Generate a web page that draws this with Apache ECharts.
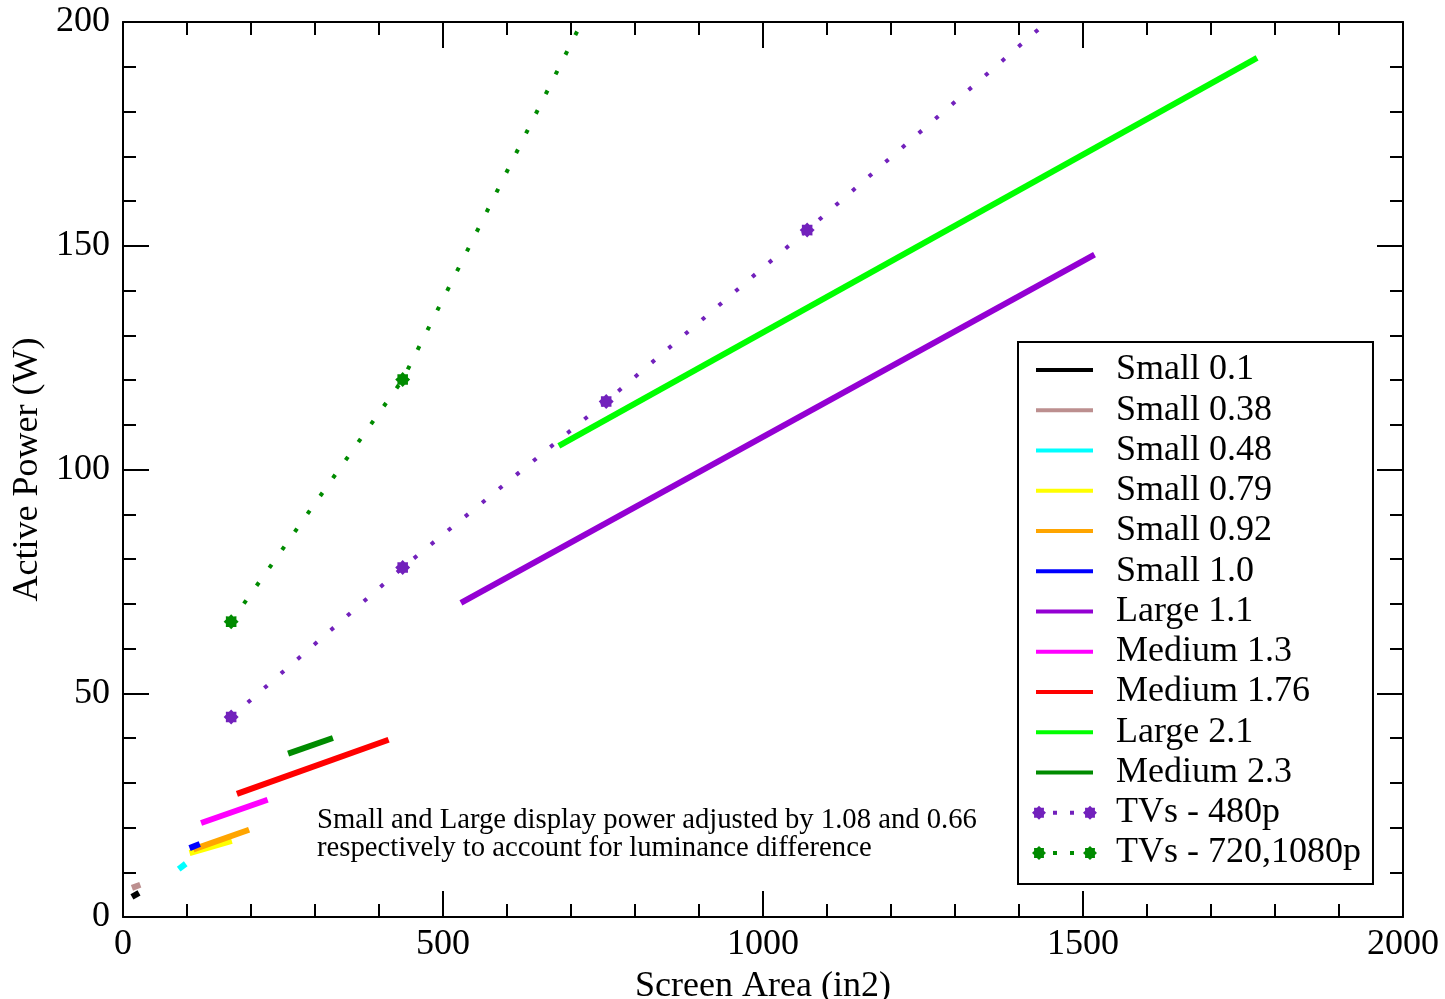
<!DOCTYPE html>
<html>
<head>
<meta charset="utf-8">
<script src="https://cdn.jsdelivr.net/npm/echarts@6/dist/echarts.min.js"></script>
<style>
  html, body { margin: 0; padding: 0; background: #fff; }
  #chart { width: 1445px; height: 999px; }
</style>
</head>
<body>
<div id="chart"></div>
<script>
// series data: [screen area (in2), active power (W)]
const small01 = [[14, 4.5], [25, 5.4]];
const small038 = [[14, 6.5], [27, 7.2]];
const small048 = [[87, 10.7], [98, 11.9]];
const small079 = [[104, 14.3], [170, 17.0]];
const small092 = [[110, 15.1], [197, 19.5]];
const small10 = [[104, 15.4], [120, 16.3]];
const large11 = [[528, 70.2], [1518, 148.0]];
const medium13 = [[122, 21.0], [226, 26.2]];
const medium176 = [[178, 27.5], [415, 39.6]];
const large21 = [[681, 105.3], [1772, 192.0]];
const medium23 = [[258, 36.5], [328, 40.0]];
const tv480 = [[169, 44.7], [437, 78.1], [755, 115.2], [1069, 153.5], [1500, 207]];
const tv720 = [[169, 66.0], [437, 120.1], [780, 218]];

const seriesNames = ['Small 0.1', 'Small 0.38', 'Small 0.48', 'Small 0.79', 'Small 0.92', 'Small 1.0',
  'Large 1.1', 'Medium 1.3', 'Medium 1.76', 'Large 2.1', 'Medium 2.3', 'TVs - 480p', 'TVs - 720,1080p'];
const seriesData = [small01, small038, small048, small079, small092, small10,
  large11, medium13, medium176, large21, medium23, tv480, tv720];
const seriesColors = ['#000000', '#bc8f8f', '#00ffff', '#ffff00', '#ffa500', '#0000ff',
  '#9400d3', '#ff00ff', '#ff0000', '#00ff00', '#008b00', '#7221bc', '#008b00'];

const xTicks = { min: 0, max: 2000, interval: 500 };
const yTicks = { min: 0, max: 200, interval: 50 };

const FONT = "'Liberation Serif', 'Times New Roman', serif";

// 8 pointed star marker
function star(cx, cy, ro, ri) {
  let d = '';
  for (let k = 0; k < 16; k++) {
    const a = (k * Math.PI) / 8;
    const r = k % 2 === 0 ? ro : ri;
    d += (k === 0 ? 'M' : 'L') + (cx + r * Math.cos(a)).toFixed(2) + ',' + (cy + r * Math.sin(a)).toFixed(2);
  }
  return d + 'Z';
}
const starSymbol = 'path://' + star(7, 7, 7, 5.3);
const lineIcon = 'path://M0,0M65,14M4,5H61V9H4Z';
const tvIcon = 'path://' + star(7, 7, 7, 5.3) + 'M21,5H25V9H21ZM38,5H42V9H38Z' + star(58, 7, 7, 5.3);

const myChart = echarts.init(document.getElementById('chart'));

const axisCommon = {
  axisLine: { show: true, onZero: false, lineStyle: { color: '#000', width: 2 } },
  axisTick: { show: true, inside: true, length: 26, lineStyle: { color: '#000', width: 2 } },
  minorTick: { show: true, splitNumber: 5, length: 13, lineStyle: { color: '#000', width: 2 } },
  splitLine: { show: false },
};

const series = seriesNames.map((name, i) => {
  const isTv = name.indexOf('TVs') === 0;
  return {
    name: name,
    type: 'line',
    data: seriesData[i],
    clip: true,
    color: seriesColors[i],
    symbol: isTv ? starSymbol : 'none',
    symbolSize: 15,
    showSymbol: isTv,
    lineStyle: isTv
      ? { width: 4, type: [4, 18], cap: 'butt', color: seriesColors[i] }
      : { width: 6, color: seriesColors[i] },
    itemStyle: { color: seriesColors[i] },
    emphasis: { disabled: true },
    z: 2 + i,
  };
});

const plainNum = (v) => String(v);

const option = {
  animation: false,
  backgroundColor: '#fff',
  textStyle: { fontFamily: FONT, color: '#000' },
  grid: { left: 123, right: 42, top: 22, bottom: 82, outerBoundsMode: 'none', containLabel: false },
  xAxis: [
    Object.assign({}, axisCommon, {
      type: 'value', position: 'bottom', min: xTicks.min, max: xTicks.max, interval: xTicks.interval,
      name: 'Screen Area (in2)', nameLocation: 'middle', nameGap: 52,
      nameTextStyle: { fontFamily: FONT, fontSize: 36, color: '#000' },
      axisLabel: { fontFamily: FONT, fontSize: 36, color: '#000', margin: 10, formatter: plainNum },
    }),
    Object.assign({}, axisCommon, {
      type: 'value', position: 'top', min: xTicks.min, max: xTicks.max, interval: xTicks.interval,
      axisLabel: { show: false },
    }),
  ],
  yAxis: [
    Object.assign({}, axisCommon, {
      type: 'value', position: 'left', min: yTicks.min, max: yTicks.max, interval: yTicks.interval,
      name: 'Active Power (W)', nameLocation: 'middle', nameGap: 77,
      nameTextStyle: { fontFamily: FONT, fontSize: 36, color: '#000' },
      axisLabel: { fontFamily: FONT, fontSize: 36, color: '#000', margin: 13, formatter: plainNum },
    }),
    Object.assign({}, axisCommon, {
      type: 'value', position: 'right', min: yTicks.min, max: yTicks.max, interval: yTicks.interval,
      axisLabel: { show: false },
    }),
  ],
  legend: {
    orient: 'vertical',
    left: 1018,
    top: 342,
    padding: [10, 12, 13, 14],
    itemGap: 4.25,
    itemWidth: 65,
    itemHeight: 14,
    borderColor: '#000',
    borderWidth: 2,
    backgroundColor: '#fff',
    selectedMode: false,
    itemStyle: { borderWidth: 0 },
    textStyle: { fontFamily: FONT, fontSize: 36, color: '#000', padding: [0, 0, 0, 14] },
    data: seriesNames.map((name) => ({
      name: name,
      icon: name.indexOf('TVs') === 0 ? tvIcon : lineIcon,
    })),
  },
  graphic: [
    {
      type: 'text',
      left: 317,
      top: 806,
      style: {
        text: 'Small and Large display power adjusted by 1.08 and 0.66\nrespectively to account for luminance difference',
        font: '28.7px ' + FONT,
        lineHeight: 28,
        fill: '#000',
      },
    },
  ],
  series: series,
};

myChart.setOption(option);

window.addEventListener('resize', () => {
  myChart.resize();
});
</script>
</body>
</html>
